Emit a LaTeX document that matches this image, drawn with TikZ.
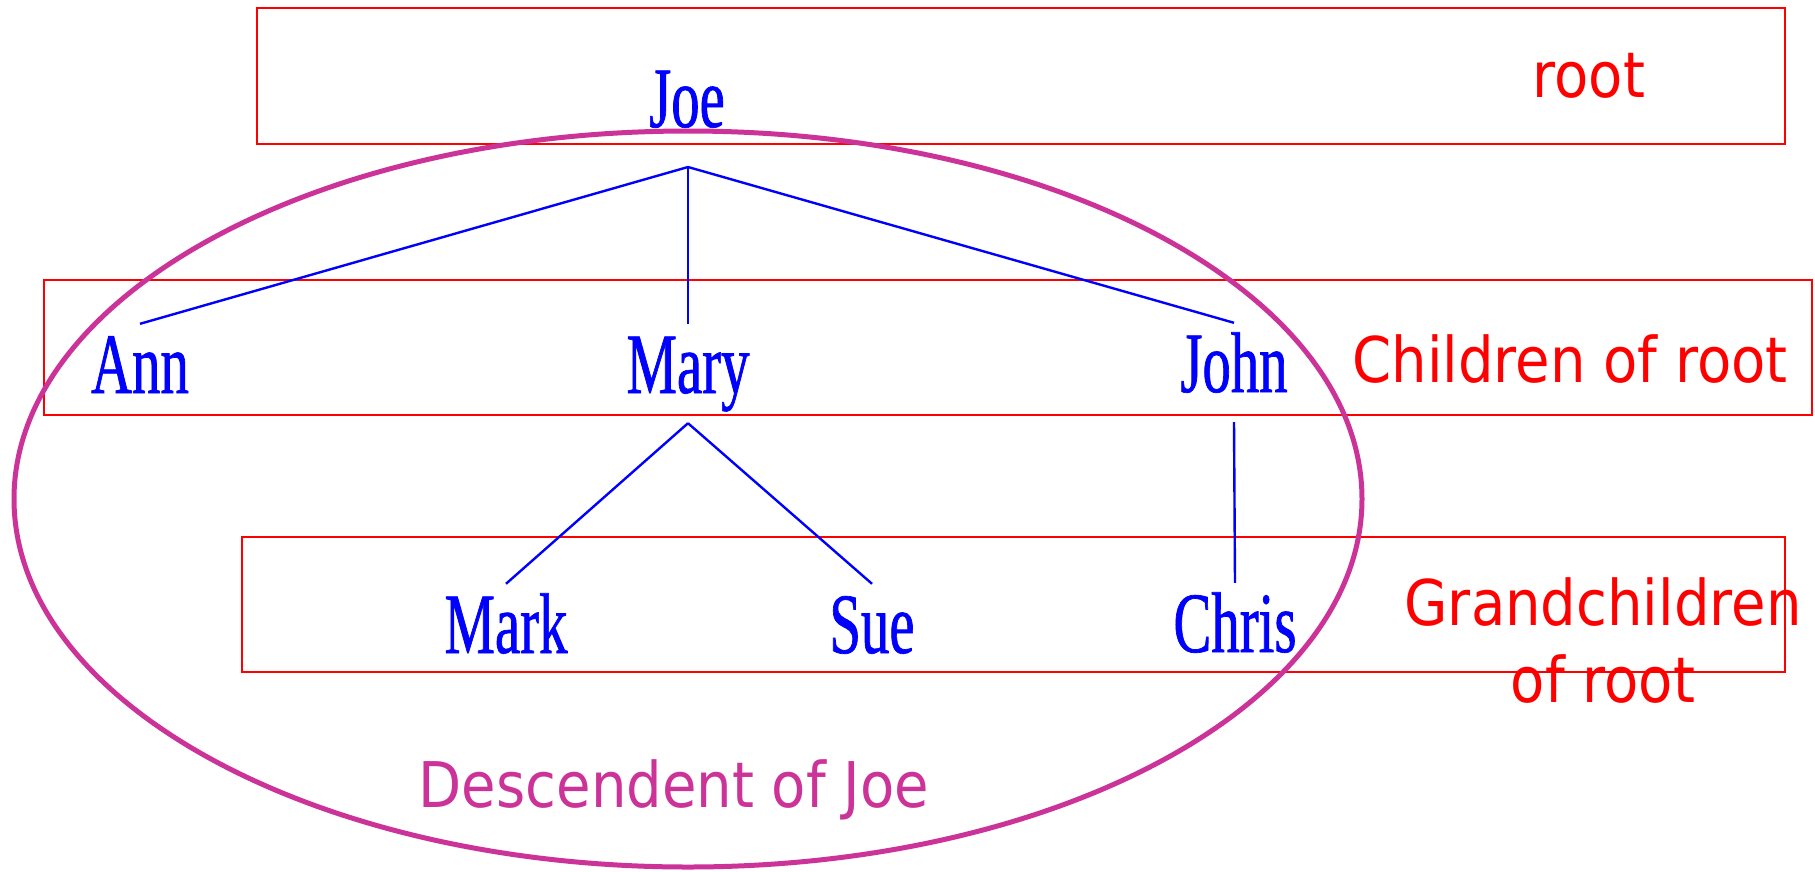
\documentclass[tikz,border=0pt]{standalone}
\usepackage{fontspec}
\usetikzlibrary{positioning}
\newfontfamily\namefont[FakeStretch=0.66,FakeBold=0.8]{Liberation Serif}
\newfontfamily\tagfont[FakeStretch=0.89]{DejaVu Sans}
\definecolor{treeblue}{RGB}{0,0,255}
\definecolor{levelred}{RGB}{255,0,0}
\definecolor{descpink}{RGB}{204,51,153}

\begin{document}
\begin{tikzpicture}[x=1pt,y=-1pt,
  person/.style={text=treeblue,font=\namefont\fontsize{86}{90}\selectfont,anchor=base,
    inner xsep=0pt,inner ysep=12pt,text height=57pt,text depth=18pt},
  branch/.style={draw=treeblue,line width=2.4pt},
  levelbox/.style={draw=levelred,line width=2.8pt},
  leveltag/.style={text=levelred,font=\tagfont\fontsize{63}{77}\selectfont,inner sep=0pt}]
  \useasboundingbox (0,0) rectangle (1815,871);
  % levels of the tree
  \draw[levelbox] (257,8) rectangle (1785,144);
  \draw[levelbox] (44,280) rectangle (1812,415);
  \draw[levelbox] (242,537) rectangle (1785,672);
  \node[leveltag,anchor=base] (tagroot) at (1589,97) {root};
  \node[leveltag,anchor=base] (tagchild) at (1570,382) {Children of root};
  \node[leveltag,anchor=north,align=center] (taggrand) at (1603,577) {Grandchildren\\of root};
  % the family
  \node[person] (joe) at (687,127) {Joe};
  \node[person] (ann) at (140,393) {Ann};
  \node[person] (mary) at (688,393) {Mary};
  \node[person] (john) at (1234,392) {John};
  \node[person] (mark) at (506,653) {Mark};
  \node[person] (sue) at (872,653) {Sue};
  \node[person] (chris) at (1235,652) {Chris};
  \coordinate (fork) at (688,167);
  \draw[branch] (fork) -- (ann.north);
  \draw[branch] (fork) -- (mary.north);
  \draw[branch] (fork) -- (john.north);
  \draw[branch] (mary.south) -- (mark.north);
  \draw[branch] (mary.south) -- (sue.north);
  \draw[branch] (john.south) -- (chris.north);
  % descendents
  \draw[descpink,line width=5pt] (688,499) ellipse [x radius=674pt,y radius=368pt];
  \node[text=descpink,font=\tagfont\fontsize{63}{77}\selectfont,anchor=base,inner sep=0pt] (desc) at (674,807) {Descendent of Joe};
\end{tikzpicture}
\end{document}
